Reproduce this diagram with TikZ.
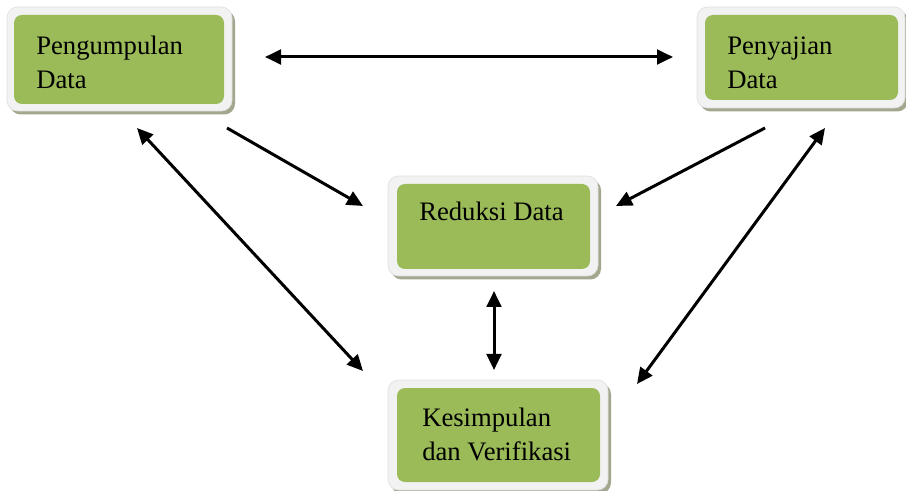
\documentclass[tikz,border=0pt]{standalone}
\usepackage{fontspec}
\setmainfont{Liberation Serif}
\usepackage{xcolor}
\usetikzlibrary{arrows.meta}

\definecolor{boxgreen}{HTML}{9BBB59}
\definecolor{boxframe}{HTML}{F2F2F2}
\definecolor{boxshadow}{HTML}{A3A78E}

\begin{document}
\begin{tikzpicture}[x=0.75pt, y=-0.75pt,
	frame/.style={rectangle, rounded corners=8pt, fill=boxframe, draw=black!12, line width=0.5pt,
		inner sep=0pt, outer sep=0pt},
	shade/.style={rectangle, rounded corners=8pt, fill=boxshadow, inner sep=0pt, outer sep=0pt},
	greenbox/.style={rectangle, rounded corners=6pt, fill=boxgreen, inner sep=0pt, outer sep=0pt},
	txt/.style={align=left, inner sep=0pt, font=\fontsize{20}{25.5}\selectfont},
	link/.style={line width=2.25pt, -{Triangle[length=12pt, width=11pt]}},
	both/.style={line width=2.25pt, {Triangle[length=12pt, width=11pt]}-{Triangle[length=12pt, width=11pt]}}
	]
	\useasboundingbox (0,0) rectangle (906,491);
	% shadows
	\node[shade, minimum width=168.75pt, minimum height=78pt] (PengS) at (122.5,62.5) {};
	\node[shade, minimum width=156pt, minimum height=75.75pt] (PenyS) at (804,61) {};
	\node[shade, minimum width=157.5pt, minimum height=75pt] (RedS) at (496,229.5) {};
	\node[shade, minimum width=165pt, minimum height=82.5pt] (KesS) at (501,438.5) {};
	% frames
	\node[frame, minimum width=168.75pt, minimum height=78pt] (PengF) at (119.5,59) {};
	\node[frame, minimum width=156pt, minimum height=75.75pt] (PenyF) at (801,57.5) {};
	\node[frame, minimum width=157.5pt, minimum height=75pt] (RedF) at (493,226) {};
	\node[frame, minimum width=165pt, minimum height=82.5pt] (KesF) at (498,435) {};
	% green boxes
	\node[greenbox, minimum width=157.5pt, minimum height=66.75pt] (Peng) at (119,59.5) {};
	\node[greenbox, minimum width=144.75pt, minimum height=63.75pt] (Peny) at (801.5,57.5) {};
	\node[greenbox, minimum width=144.75pt, minimum height=63.75pt] (Red) at (493.5,226.5) {};
	\node[greenbox, minimum width=152.25pt, minimum height=70.5pt] (Kes) at (498.5,435) {};
	% texts (base = last line)
	\node[txt, anchor=base west] (PengT) at (36,89) {Pengumpulan\\Data};
	\node[txt, anchor=base west] (PenyT) at (727,89) {Penyajian\\Data};
	\node[txt, anchor=base west] (RedT) at (419,221) {Reduksi Data};
	\node[txt, anchor=base west] (KesT) at (422,460) {Kesimpulan\\dan Verifikasi};
	% arrow ends
	\coordinate (h1) at (265,57);
	\coordinate (h2) at (673,57);
	\coordinate (pr1) at (227,128);
	\coordinate (pr2) at (363,206);
	\coordinate (yr1) at (765,128);
	\coordinate (yr2) at (616,206);
	\coordinate (pk1) at (137,128);
	\coordinate (pk2) at (363,371);
	\coordinate (yk1) at (825,128);
	\coordinate (yk2) at (637,384);
	\coordinate (rk1) at (494,291);
	\coordinate (rk2) at (494,370);
	\draw[both] (h1) -- (h2);
	\draw[link] (pr1) -- (pr2);
	\draw[link] (yr1) -- (yr2);
	\draw[both] (pk1) -- (pk2);
	\draw[both] (yk1) -- (yk2);
	\draw[both] (rk1) -- (rk2);
\end{tikzpicture}
\end{document}
